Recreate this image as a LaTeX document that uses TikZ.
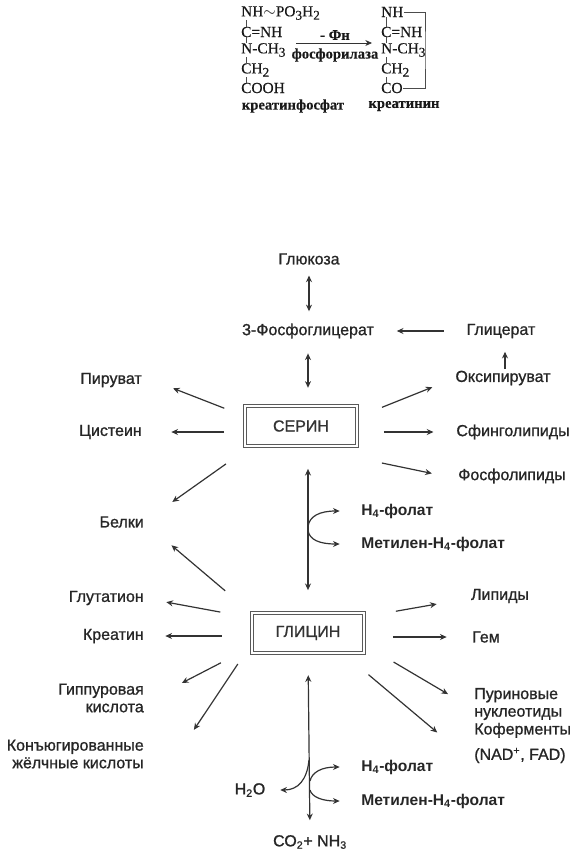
\documentclass[tikz,border=0pt]{standalone}
\usepackage{fontspec}
\setmainfont{Liberation Sans}
\newfontfamily\lblfont[FakeBold=1]{Liberation Sans}
\newfontfamily\chemfont[FakeBold=0.3]{Liberation Serif}
\usetikzlibrary{arrows.meta}
\newcommand{\lowidx}[1]{\raisebox{-2.5pt}{\fontsize{10}{10}\selectfont #1}}
\begin{document}
\begin{tikzpicture}[x=0.75pt, y=-0.75pt, >={Stealth[length=5pt,width=4.5pt]},
  lin/.style={draw=black!80, line width=0.9pt},
  arr/.style={lin, ->},
  dbl/.style={lin, <->},
  bond/.style={draw=black!70, line width=0.5pt},
  chem/.style={anchor=west, inner sep=0pt, font=\chemfont\fontsize{11.5}{13}\selectfont, text=black!90},
  chemb/.style={inner sep=0pt, font=\chemfont\bfseries\fontsize{11}{13}\selectfont, text=black!90},
  lbl/.style={inner sep=0pt, font=\lblfont\fontsize{12}{13.2}\selectfont, text=black!85, align=center},
  lblr/.style={lbl, anchor=east, align=right},
  lbll/.style={lbl, anchor=west, align=left},
  fol/.style={anchor=west, inner sep=0pt, font=\bfseries\fontsize{11.7}{13}\selectfont, text=black!85},
  amino/.style={draw=black!65, line width=0.8pt, double, double distance=1.3pt,
    minimum width=84.5pt, minimum height=29.5pt, inner sep=0pt,
    font=\lblfont\fontsize{12}{13}\selectfont, text=black!80}]
\useasboundingbox (0,0) rectangle (577,857);
% creatine phosphate -> creatinine
\node[chem] (a1) at (241,13) {NH$\sim$PO\lowidx{3}H\lowidx{2}};
\node[chem] (a2) at (241,32) {C=NH};
\node[chem] (a3) at (241,50) {N-CH\lowidx{3}};
\node[chem] (a4) at (241,70) {CH\lowidx{2}};
\node[chem] (a5) at (241,88) {COOH};
\node[chemb] (a6) at (293,106) {креатинфосфат};
\node[chem] (b1) at (381,12) {NH};
\node[chem] (b2) at (381,32) {C=NH};
\node[chem] (b3) at (381,50) {N-CH\lowidx{3}};
\node[chem] (b4) at (381,70) {CH\lowidx{2}};
\node[chem] (b5) at (381,88) {CO};
\node[chemb] (b6) at (404,106) {креатинин};
\node[chemb] (fn) at (335,35) {- Фн};
\node[chemb] (fosforilaza) at (335,55) {фосфорилаза};
\coordinate (arrS) at (296,43);
\coordinate (arrE) at (372,43);
\coordinate (brk) at (425,50);
\draw[arr, line width=0.5pt] (arrS) -- (arrE);
\draw[bond] (b1.east) -| (brk) |- (b5.east);
\foreach \u/\v in {a1/a2, a2/a3, a3/a4, a4/a5, b1/b2, b2/b3, b3/b4, b4/b5}
  \draw[bond] ([xshift=4pt]\u.south west) -- ([xshift=4pt]\v.north west);
% serine and glycine
\node[amino] (serin) at (301,426) {СЕРИН};
\node[amino] (glicin) at (308,633) {ГЛИЦИН};
\node[lbl] (glukoza) at (309,259) {Глюкоза};
\node[lbl] (pg3) at (308,331) {3-Фосфоглицерат};
\node[lbl] (glicerat) at (501,331) {Глицерат};
\node[lbl] (oksi) at (503,378) {Оксипируват};
\node[lblr] (piruvat) at (142,380) {Пируват};
\node[lblr] (cistein) at (142,432) {Цистеин};
\node[lblr] (belki) at (144,522) {Белки};
\node[lbl] (sfingo) at (513,432) {Сфинголипиды};
\node[lbl] (fosfo) at (512,476) {Фосфолипиды};
\node[fol] (fol1) at (361,511) {Н\textsubscript{4}-фолат};
\node[fol] (met1) at (361,544) {Метилен-Н\textsubscript{4}-фолат};
\node[lblr] (glutation) at (144,598) {Глутатион};
\node[lblr] (kreatin) at (144,636) {Креатин};
\node[lblr] (gipp) at (144,698) {Гиппуровая\\кислота};
\node[lblr] (konj) at (144,754) {Конъюгированные\\жёлчные кислоты};
\node[lbl] (lipidy) at (500,596) {Липиды};
\node[lbl] (gem) at (486,637) {Гем};
\node[lbll] (purin) at (474,704) {Пуриновые\\нуклеотиды};
\node[lbll, font=\lblfont\fontsize{12}{19}\selectfont] (kofer) at (474,743) {Коферменты\\(NAD\textsuperscript{+}, FAD)};
\node[lbl] (h2o) at (250,790) {Н\textsubscript{2}О};
\node[fol] (fol2) at (361,767) {Н\textsubscript{4}-фолат};
\node[fol] (met2) at (361,801) {Метилен-Н\textsubscript{4}-фолат};
\node[lbl] (co2) at (310,842) {СО\textsubscript{2}+ NН\textsubscript{3}};
% upper part
\draw[dbl, shorten <=8pt, shorten >=9pt] (glukoza.south) -- (glukoza.south |- pg3.north);
\draw[dbl, shorten <=11pt, shorten >=13.5pt] (pg3.south) -- (pg3.south |- serin.north);
\draw[arr, shorten <=17pt, shorten >=17pt] (glicerat.west) -- (pg3.east);
\draw[arr, shorten <=1pt, shorten >=10pt] ([xshift=1.5pt]oksi.north) -- ([xshift=1.5pt]oksi.north |- glicerat.south);
% arrows round serine
\draw[arr, shorten <=16pt, shorten >=25pt] (serin.170) -- (piruvat.7);
\draw[arr, shorten <=15pt, shorten >=22pt] (cistein.east -| serin.west) -- (cistein.east);
\draw[arr, shorten <=23pt, shorten >=26pt] (serin.202) -- (belki.east);
\draw[arr, shorten <=19.5pt, shorten >=18.5pt] (serin.9) -- (oksi.west);
\draw[arr, shorten <=19.5pt, shorten >=17pt] (sfingo.west -| serin.east) -- (sfingo.west);
\draw[arr, shorten <=62pt, shorten >=20pt] (serin.south) -- (fosfo.183);
% serine <-> glycine
\draw[dbl, shorten <=17pt, shorten >=17pt] (glicin.north) -- (glicin.north |- serin.south);
\coordinate (turn1) at (308,527);
\coordinate (turn2) at (308,530);
\draw[arr, shorten >=16pt] (turn1) .. controls (309,516) and (320,511) .. (fol1.west);
\draw[arr, shorten >=16pt] (turn2) .. controls (309,540) and (320,544) .. (met1.west);
% arrows round glycine
\draw[arr, shorten <=25.5pt, shorten >=27pt] (glicin.north west) -- (belki.east);
\draw[arr, shorten <=23.5pt, shorten >=17pt] (glicin.165) -- (glutation.east);
\draw[arr, shorten <=22pt, shorten >=16pt] (kreatin.east -| glicin.west) -- (kreatin.east);
\draw[arr, shorten <=25.5pt, shorten >=32pt] (glicin.194) -- (gipp.-6);
\draw[arr, shorten <=18pt, shorten >=35pt] (glicin.191) -- ([xshift=18pt]konj.south east);
\draw[arr, shorten <=23.6pt, shorten >=26pt] (glicin.16) -- (lipidy.184);
\draw[arr, shorten <=21pt, shorten >=19pt] (gem.west -| glicin.east) -- (gem.west);
\draw[arr, shorten <=25pt, shorten >=22.6pt] (glicin.-12.6) -- (purin.187);
\draw[arr, shorten <=25pt, shorten >=36pt] (glicin.-30) -- (kofer.south west);
% glycine cleavage
\draw[dbl, shorten <=16.5pt, shorten >=11pt] (glicin.south) -- (co2.north);
\coordinate (turn3) at (309,760);
\coordinate (turn4) at (310,781);
\coordinate (turn5) at (310,790);
\draw[arr, shorten >=11pt] (turn3) .. controls (307,780) and (298,790) .. (h2o.east);
\draw[arr, shorten >=16pt] (turn4) .. controls (312,772) and (322,767) .. (fol2.west);
\draw[arr, shorten >=16pt] (turn5) .. controls (312,797) and (322,801) .. (met2.west);
\end{tikzpicture}
\end{document}
